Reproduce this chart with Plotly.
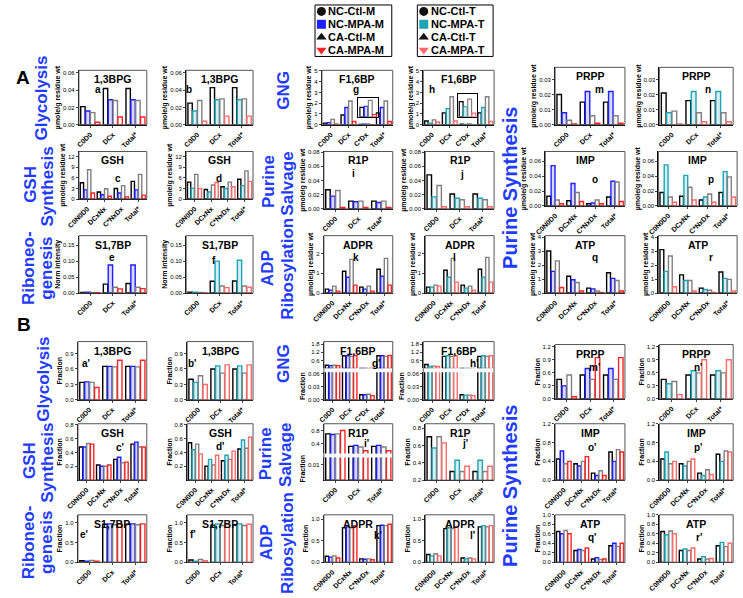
import plotly.graph_objects as go

W, H = 743, 598
FONT = "Arial, Liberation Sans, sans-serif"
LABEL_BLUE = "#1f3cff"

SERIES_M = ["NC-Ctl-M", "NC-MPA-M", "CA-Ctl-M", "CA-MPA-M"]
SERIES_T = ["NC-Ctl-T", "NC-MPA-T", "CA-Ctl-T", "CA-MPA-T"]

CATS_3 = ["C0D0", "DCx", "Total*"]
CATS_NX = ["C0N0D0", "DCxNx", "C*NxDx", "Total*"]
CATS_CD = ["C0D0", "DCx", "C*Dx", "Total*"]

# ---------- Panel A (rows: NC-Ctl, NC-MPA, CA-Ctl, CA-MPA) ----------
A_BPG_M = [[0.021, 0.042, 0.042], [0.016, 0.029, 0.029], [0.014, 0.028, 0.028], [0.003, 0.009, 0.009]]
A_BPG_T = [[0.025, 0.043, 0.043], [0.016, 0.029, 0.029], [0.028, 0.030, 0.030], [0.004, 0.010, 0.010]]
A_GSH_M = [[4.6, 2.0, 3.0, 5.0], [2.6, 1.2, 1.7, 2.6], [8.3, 2.9, 3.8, 7.0], [1.7, 0.8, 0.6, 1.1]]
A_GSH_T = [[4.8, 2.7, 3.5, 5.6], [3.1, 2.0, 3.0, 3.8], [7.0, 4.0, 4.8, 8.0], [3.0, 4.7, 3.5, 5.0]]
A_S17_M = [[0.002, 0.028, 0.030], [0.003, 0.088, 0.088], [0.002, 0.018, 0.018], [0.001, 0.013, 0.014]]
A_S17_T = [[0.003, 0.037, 0.038], [0.003, 0.100, 0.103], [0.002, 0.022, 0.022], [0.001, 0.017, 0.018]]
A_F16_M = [[0.15, 0.90, 0.040, 1.10], [0.20, 1.60, 0.045, 1.60], [0.50, 2.20, 0.070, 2.20], [0.05, 0.30, 0.010, 0.30]]
A_F16_T = [[0.35, 1.10, 0.060, 1.10], [0.15, 1.50, 0.040, 1.60], [0.45, 2.60, 0.070, 2.60], [0.25, 0.35, 0.015, 0.30]]
A_R1P_M = [[0.027, 0.011, 0.011], [0.018, 0.010, 0.009], [0.026, 0.011, 0.011], [0.002, 0.002, 0.002]]
A_R1P_T = [[0.048, 0.021, 0.021], [0.017, 0.015, 0.015], [0.033, 0.013, 0.013], [0.003, 0.003, 0.003]]
A_ADPR_M = [[0.20, 1.10, 0.30, 1.20], [0.15, 0.80, 0.20, 0.85], [0.35, 1.70, 0.35, 1.75], [0.10, 0.40, 0.10, 0.40]]
A_ADPR_T = [[0.30, 1.15, 0.40, 1.20], [0.30, 0.80, 0.25, 0.80], [0.40, 1.75, 0.35, 1.80], [0.35, 0.55, 0.15, 0.55]]
A_PRPP_M = [[0.020, 0.015, 0.015], [0.008, 0.022, 0.022], [0.003, 0.006, 0.006], [0.0005, 0.001, 0.001]]
A_PRPP_T = [[0.021, 0.016, 0.016], [0.008, 0.022, 0.022], [0.009, 0.008, 0.008], [0.0005, 0.002, 0.002]]
A_IMP_M = [[0.013, 0.007, 0.003, 0.012], [0.054, 0.030, 0.004, 0.033], [0.008, 0.018, 0.008, 0.032], [0.003, 0.006, 0.003, 0.006]]
A_IMP_T = [[0.018, 0.013, 0.008, 0.018], [0.055, 0.041, 0.012, 0.046], [0.012, 0.025, 0.016, 0.039], [0.005, 0.008, 0.005, 0.012]]
A_ATP_M = [[3.00, 1.20, 0.35, 1.45], [1.55, 0.95, 0.30, 1.05], [2.30, 0.75, 0.15, 0.90], [0.40, 0.15, 0.05, 0.15]]
A_ATP_T = [[3.10, 1.30, 0.35, 1.50], [1.55, 0.90, 0.25, 1.05], [2.65, 0.90, 0.20, 0.98], [0.45, 0.15, 0.05, 0.15]]

# ---------- Panel B: fractions ----------
B_BPG_M = [[0.34, 0.65, 0.65], [0.35, 0.65, 0.65], [0.34, 0.64, 0.64], [0.24, 0.77, 0.77]]
B_BPG_T = [[0.40, 0.60, 0.60], [0.34, 0.66, 0.66], [0.47, 0.52, 0.52], [0.30, 0.68, 0.68]]
B_GSH_M = [[0.48, 0.22, 0.30, 0.52], [0.48, 0.20, 0.33, 0.55], [0.53, 0.20, 0.25, 0.48], [0.52, 0.22, 0.26, 0.48]]
B_GSH_T = [[0.54, 0.20, 0.28, 0.45], [0.44, 0.30, 0.36, 0.58], [0.52, 0.22, 0.30, 0.46], [0.38, 0.36, 0.42, 0.62]]
B_S17_M = [[0.04, 0.96, 0.96], [0.03, 0.97, 0.97], [0.05, 0.95, 0.95], [0.03, 0.97, 0.97]]
B_S17_T = [[0.06, 0.94, 0.94], [0.03, 0.97, 0.97], [0.07, 0.93, 0.93], [0.04, 0.96, 0.96]]
B_F16_M = [[0.25, 0.95, 0.012, 0.95], [0.22, 0.95, 0.012, 0.95], [0.25, 0.90, 0.013, 0.90], [0.22, 0.97, 0.010, 0.97]]
B_F16_T = [[0.30, 0.90, 0.012, 0.90], [0.15, 0.95, 0.011, 0.95], [0.18, 0.90, 0.011, 0.90], [0.15, 0.95, 0.010, 0.95]]
B_R1P_M = [[0.70, 0.33, 0.33], [0.68, 0.36, 0.36], [0.70, 0.31, 0.31], [0.80, 0.20, 0.20]]
B_R1P_T = [[0.70, 0.30, 0.30], [0.57, 0.43, 0.43], [0.70, 0.30, 0.30], [0.63, 0.36, 0.36]]
B_ADPR_M = [[0.14, 0.80, 0.08, 0.85], [0.12, 0.82, 0.07, 0.86], [0.15, 0.80, 0.08, 0.85], [0.10, 0.85, 0.06, 0.88]]
B_ADPR_T = [[0.18, 0.78, 0.10, 0.82], [0.15, 0.80, 0.08, 0.85], [0.20, 0.78, 0.10, 0.82], [0.15, 0.82, 0.08, 0.85]]
B_PRPP_M = [[0.45, 0.55, 0.55], [0.30, 0.70, 0.70], [0.55, 0.45, 0.45], [0.05, 0.95, 0.95]]
B_PRPP_T = [[0.45, 0.55, 0.55], [0.35, 0.65, 0.65], [0.40, 0.60, 0.60], [0.10, 0.90, 0.90]]
B_IMP_M = [[0.45, 0.35, 0.15, 0.60], [0.62, 0.30, 0.10, 0.40], [0.35, 0.40, 0.20, 0.65], [0.40, 0.50, 0.10, 0.60]]
B_IMP_T = [[0.45, 0.35, 0.15, 0.55], [0.60, 0.30, 0.10, 0.40], [0.35, 0.40, 0.22, 0.62], [0.40, 0.45, 0.12, 0.60]]
B_ATP_M = [[0.65, 0.25, 0.07, 0.35], [0.60, 0.27, 0.10, 0.40], [0.67, 0.25, 0.06, 0.33], [0.60, 0.30, 0.07, 0.40]]
B_ATP_T = [[0.65, 0.25, 0.07, 0.35], [0.58, 0.28, 0.12, 0.42], [0.66, 0.25, 0.07, 0.33], [0.60, 0.30, 0.08, 0.40]]

PAL = {
    "M": dict(line=["#000000", "#1e1eff", "#7f7f7f", "#ff2424"],
              fill=["#ffffff", "rgba(40,40,255,0.18)", "#ffffff", "#ffffff"], names=SERIES_M),
    "T": dict(line=["#000000", "#1fa3b6", "#7f7f7f", "#ff6a6a"],
              fill=["#ffffff", "rgba(31,163,182,0.18)", "#ffffff", "#ffffff"], names=SERIES_T),
}

UM = "µmole/g residue wt"
FR = "Fraction"

# layout table: (values, cats, palette, x px, y px, range, ticks, fmt, ytitle, title, letter, letter px)
PANELS = [
    # ---- A ----
    (A_BPG_M, CATS_3, "M", (68, 137), (68, 123), [0, 0.063], [0, 0.02, 0.04, 0.06], ".2f", UM, "1,3BPG", "a", (87, 87)),
    (A_BPG_T, CATS_3, "T", (177, 245), (68, 123), [0, 0.063], [0, 0.02, 0.04, 0.06], ".2f", UM, "1,3BPG", "b", (180, 87)),
    (A_GSH_M, CATS_NX, "M", (68, 137), (150, 198), [0, 13.5], [0, 3, 6, 9, 12], "d", UM, "GSH", "c", (108, 177)),
    (A_GSH_T, CATS_NX, "T", (177, 245), (150, 198), [0, 13.5], [0, 3, 6, 9, 12], "d", UM, "GSH", "d", (210, 177)),
    (A_S17_M, CATS_3, "M", (68, 137), (235, 293), [0, 0.18], [0, 0.05, 0.10, 0.15], ".2f", "Norm intensity", "S1,7BP", "e", (102, 257)),
    (A_S17_T, CATS_3, "T", (177, 245), (235, 293), [0, 0.18], [0, 0.05, 0.10, 0.15], ".2f", "Norm intensity", "S1,7BP", "f", (205, 260)),
    (A_F16_M, CATS_CD, "M", (315, 387), (68, 123), [0, 5.05], [0, 1, 2, 3, 4, 5], "d", UM, "F1,6BP", "g", (350, 87)),
    (A_F16_T, CATS_CD, "T", (418, 490), (68, 123), [0, 5.05], [0, 1, 2, 3, 4, 5], "d", UM, "F1,6BP", "h", (427, 87)),
    (A_R1P_M, CATS_3, "M", (317, 387), (150, 208), [0, 0.081], [0, 0.02, 0.04, 0.06, 0.08], ".2f", UM, "R1P", "i", (347, 172)),
    (A_R1P_T, CATS_3, "T", (420, 490), (150, 208), [0, 0.081], [0, 0.02, 0.04, 0.06, 0.08], ".2f", UM, "R1P", "j", (457, 173)),
    (A_ADPR_M, CATS_NX, "M", (317, 387), (235, 293), [0, 2.9], [0, 1, 2], "d", UM, "ADPR", "k", (350, 257)),
    (A_ADPR_T, CATS_NX, "T", (420, 490), (235, 293), [0, 2.9], [0, 1, 2], "d", UM, "ADPR", "l", (450, 257)),
    (A_PRPP_M, CATS_3, "M", (552, 623), (65, 123), [0, 0.038], [0, 0.01, 0.02, 0.03], ".2f", UM, "PRPP", "m", (597, 87)),
    (A_PRPP_T, CATS_3, "T", (658, 733), (65, 123), [0, 0.038], [0, 0.01, 0.02, 0.03], ".2f", UM, "PRPP", "n", (707, 87)),
    (A_IMP_M, CATS_NX, "M", (542, 623), (150, 205), [0, 0.073], [0, 0.02, 0.04, 0.06], ".2f", UM, "IMP", "o", (593, 178)),
    (A_IMP_T, CATS_NX, "T", (657, 737), (150, 205), [0, 0.073], [0, 0.02, 0.04, 0.06], ".2f", UM, "IMP", "p", (710, 178)),
    (A_ATP_M, CATS_NX, "M", (542, 623), (235, 293), [0, 4.1], [0, 1, 2, 3, 4], "d", UM, "ATP", "q", (593, 257)),
    (A_ATP_T, CATS_NX, "T", (657, 737), (235, 293), [0, 4.1], [0, 1, 2, 3, 4], "d", UM, "ATP", "r", (710, 257)),
    # ---- B ----
    (B_BPG_M, CATS_3, "M", (67, 137), (342, 401), [0, 1.13], [0, 0.3, 0.6, 0.9], ".1f", FR, "1,3BPG", "a'", (75, 364)),
    (B_BPG_T, CATS_3, "T", (178, 245), (342, 401), [0, 1.13], [0, 0.3, 0.6, 0.9], ".1f", FR, "1,3BPG", "b'", (183, 364)),
    (B_GSH_M, CATS_NX, "M", (67, 137), (425, 482), [0, 0.815], [0.2, 0.4, 0.6, 0.8], ".1f", FR, "GSH", "c'", (110, 449)),
    (B_GSH_T, CATS_NX, "T", (178, 245), (425, 482), [0, 0.815], [0.2, 0.4, 0.6, 0.8], ".1f", FR, "GSH", "d'", (212, 448)),
    (B_S17_M, CATS_3, "M", (67, 137), (517, 565), [0, 1.2], [0, 0.5, 1.0], ".1f", FR, "S1,7BP", "e'", (73, 537)),
    (B_S17_T, CATS_3, "T", (178, 245), (517, 565), [0, 1.2], [0, 0.5, 1.0], ".1f", FR, "S1,7BP", "f'", (184, 537)),
    (B_F16_M, CATS_CD, "M", (317, 387), (342, 401), None, None, None, FR, "F1,6BP", "g'", (370, 364)),
    (B_F16_T, CATS_CD, "T", (418, 490), (342, 401), None, None, None, FR, "F1,6BP", "h'", (470, 364)),
    (B_R1P_M, CATS_3, "M", (317, 387), (425, 482), None, None, None, FR, "R1P", "i'", (360, 445)),
    (B_R1P_T, CATS_3, "T", (420, 490), (425, 482), [0.2, 0.85], [0.2, 0.4, 0.6, 0.8], ".1f", FR, "R1P", "j'", (460, 445)),
    (B_ADPR_M, CATS_NX, "M", (317, 387), (517, 565), [0, 1.1], [0, 0.5, 1.0], ".1f", FR, "ADPR", "k'", (372, 538)),
    (B_ADPR_T, CATS_NX, "T", (420, 490), (517, 565), [0, 1.1], [0, 0.5, 1.0], ".1f", FR, "ADPR", "l'", (468, 538)),
    (B_PRPP_M, CATS_3, "M", (552, 623), (345, 400), [0, 1.25], [0, 0.3, 0.6, 0.9, 1.2], ".1f", FR, "PRPP", "m'", (592, 368)),
    (B_PRPP_T, CATS_3, "T", (658, 733), (345, 400), [0, 1.25], [0, 0.3, 0.6, 0.9, 1.2], ".1f", FR, "PRPP", "n'", (698, 368)),
    (B_IMP_M, CATS_NX, "M", (552, 623), (425, 482), [0, 1.2], [0, 0.4, 0.8, 1.2], ".1f", FR, "IMP", "o'", (590, 449)),
    (B_IMP_T, CATS_NX, "T", (658, 733), (425, 482), [0, 1.2], [0, 0.4, 0.8, 1.2], ".1f", FR, "IMP", "p'", (698, 449)),
    (B_ATP_M, CATS_NX, "M", (552, 623), (517, 565), [0, 1.0], [0, 0.2, 0.4, 0.6, 0.8, 1.0], ".1f", FR, "ATP", "q'", (590, 540)),
    (B_ATP_T, CATS_NX, "T", (658, 733), (517, 565), [0, 1.0], [0, 0.2, 0.4, 0.6, 0.8, 1.0], ".1f", FR, "ATP", "r'", (698, 540)),
]

# broken-axis panels: (upper px, upper range, upper ticks, lower px, lower range, lower ticks, fmt lower)
BROKEN = {
    "g'": ((342, 369), [0.02, 2.0], [0.6, 1.2, 1.8], (373, 401), [0, 0.063], [0, 0.03, 0.06], ".2f"),
    "h'": ((342, 369), [0.02, 2.0], [0.6, 1.2, 1.8], (373, 401), [0, 0.063], [0, 0.03, 0.06], ".2f"),
    "i'": ((425, 455), [0.12, 1.0], [0.4, 0.8], (459, 482), [0, 0.015], [0.01], ".2f"),
}

INSETS = {"g": (352, 372, 96, 115, [0, 0.08]), "h": (453, 473, 92, 115, [0, 0.09])}


def fx(p):
    return p / W


def fy(p):
    return 1 - p / H


fig = go.Figure()
layout = {}
annotations = []
shapes = []

TICKF = dict(family=FONT, size=6, color="black")
XTICKF = dict(family=FONT, size=7, color="black", weight="bold")


def yaxis_def(dom, rng, ticks, fmt, title=None, anchor=None):
    d = dict(domain=dom, range=rng, tickvals=ticks, tickformat=fmt, showgrid=False, zeroline=False,
             showline=True, linecolor="black", linewidth=1, ticks="outside", ticklen=2, tickwidth=1,
             tickfont=TICKF, anchor=anchor, fixedrange=True)
    if title:
        d["title"] = dict(text=title, font=dict(family=FONT, size=7, color="black", weight="bold"), standoff=1)
    return d


def add_bars(vals, cats, pal, xid, yid):
    p = PAL[pal]
    for i in range(4):
        fig.add_trace(go.Bar(x=cats, y=vals[i], xaxis=xid, yaxis=yid, name=p["names"][i],
                             marker=dict(color=p["fill"][i], line=dict(color=p["line"][i], width=1.4)),
                             offsetgroup=str(i), showlegend=False, hoverinfo="skip"))


n = 2
for (vals, cats, pal, xp, yp, rng, ticks, fmt, ytitle, title, letter, lp) in PANELS:
    xid, yid = f"x{n}", f"y{n}"
    xdom = [fx(xp[0]), fx(xp[1])]
    layout[f"xaxis{n}"] = dict(domain=xdom, anchor=yid, type="category", tickangle=-45, tickfont=XTICKF,
                               showline=True, linecolor="black", linewidth=1, ticks="outside", ticklen=2,
                               showgrid=False, fixedrange=True)
    if letter in BROKEN:
        up, urng, uticks, lo, lrng, lticks, lfmt = BROKEN[letter]
        layout[f"yaxis{n}"] = yaxis_def([fy(lo[1]), fy(lo[0])], lrng, lticks, lfmt, ytitle, xid)
        uid = n + 100
        layout[f"yaxis{uid}"] = yaxis_def([fy(up[1]), fy(up[0])], urng, uticks, ".1f", None, xid)
        add_bars(vals, cats, pal, xid, yid)
        add_bars(vals, cats, pal, xid, f"y{uid}")
    else:
        layout[f"yaxis{n}"] = yaxis_def([fy(yp[1]), fy(yp[0])], rng, ticks, fmt, ytitle, xid)
        add_bars(vals, cats, pal, xid, yid)
    if letter in INSETS:
        ix0, ix1, iy0, iy1, irng = INSETS[letter]
        iid = n + 200
        layout[f"xaxis{iid}"] = dict(domain=[fx(ix0), fx(ix1)], anchor=f"y{iid}", type="category",
                                     showticklabels=False, showline=True, linecolor="black", ticks="",
                                     showgrid=False, fixedrange=True, mirror=True)
        layout[f"yaxis{iid}"] = dict(domain=[fy(iy1), fy(iy0)], anchor=f"x{iid}", range=irng,
                                     showticklabels=False, showline=True, linecolor="black", ticks="",
                                     showgrid=False, zeroline=False, fixedrange=True, mirror=True)
        p = PAL[pal]
        for i in range(4):
            fig.add_trace(go.Bar(x=[cats[2]], y=[vals[i][2]], xaxis=f"x{iid}", yaxis=f"y{iid}",
                                 marker=dict(color=p["fill"][i], line=dict(color=p["line"][i], width=1.2)),
                                 offsetgroup=str(i), showlegend=False, hoverinfo="skip"))
    shapes.append(dict(type="rect", xref="paper", yref="paper", x0=xdom[0], x1=xdom[1],
                       y0=fy(yp[1]), y1=fy(yp[0]), line=dict(color="#555555", width=1)))
    annotations.append(dict(text=f"<b>{title}</b>", x=(xdom[0] + xdom[1]) / 2, y=fy(yp[0] + 1),
                            xref="paper", yref="paper", xanchor="center", yanchor="top", showarrow=False,
                            font=dict(family=FONT, size=10.5, color="black")))
    annotations.append(dict(text=f"<b>{letter}</b>", x=fx(lp[0]), y=fy(lp[1]), xref="paper", yref="paper",
                            xanchor="center", yanchor="middle", showarrow=False,
                            font=dict(family=FONT, size=10, color="black")))
    n += 1

# section labels, one annotation per line: (text, x px, y px, size)
SECTIONS = [
    ("Glycolysis", 30, 96, 17), ("GSH", 18, 183, 17), ("Synthesis", 36, 185, 17),
    ("Riboneo-", 17, 268, 17), ("genesis", 35, 268, 17),
    ("GNG", 276, 88, 17), ("Purine", 260, 180, 17), ("Salvage", 280, 182, 17),
    ("ADP", 259, 268, 17), ("Ribosylation", 280, 268, 17),
    ("Purine Synthesis", 506, 187, 20),
    ("Glycolysis", 32, 380, 17), ("GSH", 18, 462, 17), ("Synthesis", 36, 464, 17),
    ("Riboneo-", 17, 545, 17), ("genesis", 35, 545, 17),
    ("GNG", 276, 364, 17), ("Purine", 258, 455, 17), ("Salvage", 278, 457, 17),
    ("ADP", 259, 545, 17), ("Ribosylation", 280, 545, 17),
    ("Purine Synthesis", 506, 488, 20),
]
for txt, sx, sy, sz in SECTIONS:
    annotations.append(dict(text=f"<b>{txt}</b>", x=fx(sx), y=fy(sy), xref="paper", yref="paper",
                            xanchor="center", yanchor="middle", textangle=-90, showarrow=False,
                            font=dict(family=FONT, size=sz, color=LABEL_BLUE)))

for txt, sx, sy in [("A", 11, 75), ("B", 12, 325)]:
    annotations.append(dict(text=f"<b>{txt}</b>", x=fx(sx), y=fy(sy), xref="paper", yref="paper",
                            xanchor="center", yanchor="middle", showarrow=False,
                            font=dict(family=FONT, size=19, color="black")))

# legends (pixel-coordinate overlay axis)
layout["xaxis"] = dict(domain=[0, 1], range=[0, W], visible=False, fixedrange=True)
layout["yaxis"] = dict(domain=[0, 1], range=[H, 0], visible=False, fixedrange=True)
SYMS = ["circle", "square", "triangle-up", "triangle-down"]
for key, lx0, lx1 in [("M", 308, 386), ("T", 412, 489)]:
    p = PAL[key]
    shapes.append(dict(type="rect", xref="paper", yref="paper", x0=fx(lx0), x1=fx(lx1), y0=fy(54), y1=fy(2),
                       line=dict(color="black", width=1)))
    for i in range(4):
        yy = 8.5 + i * 13
        col = p["line"][i] if i in (1, 3) else "#111111"
        fig.add_trace(go.Scatter(x=[lx0 + 6.5], y=[yy], xaxis="x", yaxis="y", mode="markers",
                                 marker=dict(symbol=SYMS[i], size=9, color=col), showlegend=False,
                                 hoverinfo="skip"))
        annotations.append(dict(text=f"<b>{p['names'][i]}</b>", x=fx(lx0 + 12.5), y=fy(yy), xref="paper",
                                yref="paper", xanchor="left", yanchor="middle", showarrow=False, borderpad=0,
                                font=dict(family=FONT, size=11, color="black")))

fig.update_layout(**layout)
fig.update_layout(width=W, height=H, margin=dict(l=0, r=0, t=0, b=0), paper_bgcolor="white",
                  plot_bgcolor="rgba(0,0,0,0)", barmode="group", bargap=0.14, bargroupgap=0.1,
                  showlegend=False, annotations=annotations, shapes=shapes,
                  font=dict(family=FONT, color="black"))
fig.write_html("out.html")
